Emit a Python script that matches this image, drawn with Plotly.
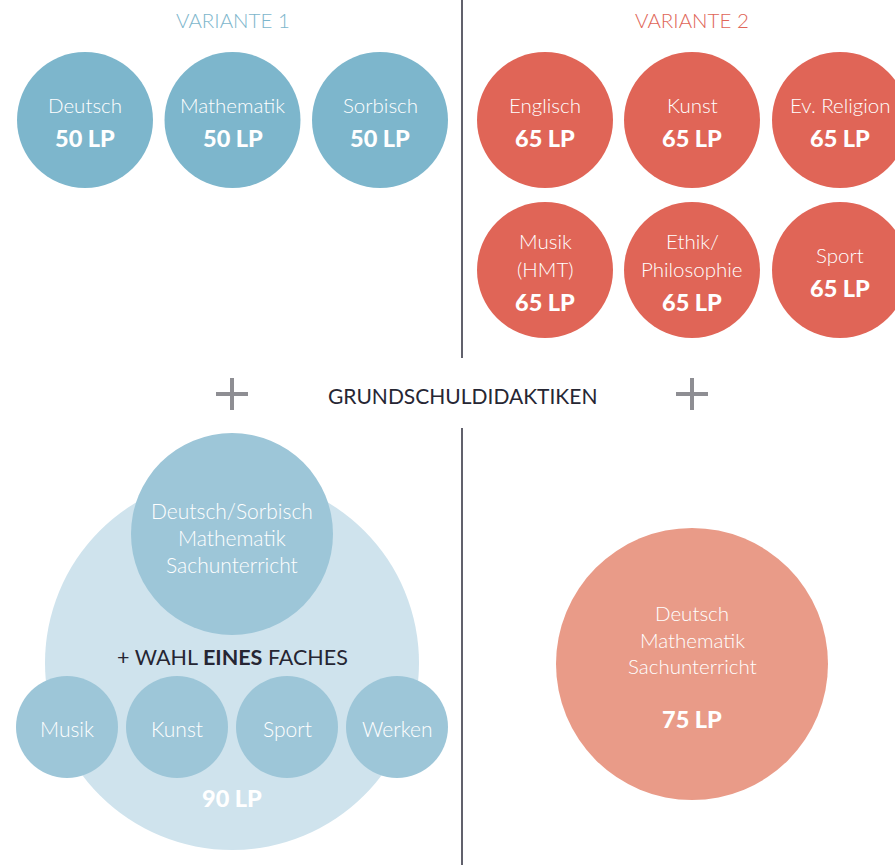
import plotly.graph_objects as go

# ---------------- data ----------------
variant_titles = ["VARIANTE 1", "VARIANTE 2"]
v1_subjects = [["Deutsch"], ["Mathematik"], ["Sorbisch"]]
v1_lp = [50, 50, 50]
v2_subjects = [["Englisch"], ["Kunst"], ["Ev. Religion"],
               ["Musik", "(HMT)"], ["Ethik/", "Philosophie"], ["Sport"]]
v2_lp = [65, 65, 65, 65, 65, 65]
middle_label = "GRUNDSCHULDIDAKTIKEN"
v1_core = ["Deutsch/Sorbisch", "Mathematik", "Sachunterricht"]
v1_choice_label = "+ WAHL <b>EINES</b> FACHES"
v1_choices = ["Musik", "Kunst", "Sport", "Werken"]
v1_didaktik_lp = 90
v2_didaktik = ["Deutsch", "Mathematik", "Sachunterricht"]
v2_didaktik_lp = 75

# ---------------- style ----------------
W, H = 895, 865
BLUE = "#7db6cc"
RED = "#e06557"
CORE_BLUE = "#9dc6d8"
LIGHT_BLUE = "#cfe3ed"
SALMON = "#e99b88"
DARK = "#262633"
GRAY = "#8e8e93"
LINE = "#2c2d3b"
FONT = "Lato"
LIGHT = 300

col_x = {1: [85, 232.5, 380], 2: [545, 692, 840]}
row_y = [120, 270]
R_SMALL = 68

fig = go.Figure()
ann = []


def add_text(x, y, text, size=20, color="white", weight=LIGHT):
    f = dict(family=FONT, size=size, color=color, weight=weight)
    ann.append(dict(x=x, y=y, xref="x", yref="y", text=text,
                    showarrow=False, xanchor="center", yanchor="middle", font=f))


def circle_block(xs, ys, diam, color):
    fig.add_trace(go.Scatter(x=xs, y=ys, mode="markers", hoverinfo="skip",
                             marker=dict(size=diam, color=color, line=dict(width=0), opacity=1),
                             showlegend=False, cliponaxis=False))


def label_lines(cx, cy, lines, lp):
    n = len(lines)
    total = (n - 1) * 28 + 33
    top = cy + 1 - total / 2
    for i, ln in enumerate(lines):
        add_text(cx, top + i * 28, ln, 20.5)
    add_text(cx, top + (n - 1) * 28 + 33, f"{lp} LP", 23.5, weight=900)


# Variant 1 subject circles
xs1 = [col_x[1][i % 3] for i in range(len(v1_subjects))]
ys1 = [row_y[i // 3] for i in range(len(v1_subjects))]
circle_block(xs1, ys1, 2 * R_SMALL, BLUE)
for x, y, s, lp in zip(xs1, ys1, v1_subjects, v1_lp):
    label_lines(x, y, s, lp)

# Variant 2 subject circles
xs2 = [col_x[2][i % 3] for i in range(len(v2_subjects))]
ys2 = [row_y[i // 3] for i in range(len(v2_subjects))]
circle_block(xs2, ys2, 2 * R_SMALL, RED)
for x, y, s, lp in zip(xs2, ys2, v2_subjects, v2_lp):
    label_lines(x, y, s, lp)

# titles
add_text(col_x[1][1], 20, variant_titles[0], 20.5, BLUE)
add_text(col_x[2][1], 20, variant_titles[1], 20.5, RED)

# middle label
add_text(462, 395, middle_label, 21, DARK, 400)

# Variant 1 didactics
cx1 = 232
circle_block([cx1], [663], 374, LIGHT_BLUE)
circle_block([cx1], [534], 202, CORE_BLUE)
for i, ln in enumerate(v1_core):
    add_text(cx1, 510 + i * 27, ln, 21)
add_text(cx1, 657, v1_choice_label, 21.5, DARK, 400)
ch_x = [67 + 110 * i for i in range(len(v1_choices))]
circle_block(ch_x, [727] * len(v1_choices), 102, CORE_BLUE)
for x, ln in zip(ch_x, v1_choices):
    add_text(x, 728, ln, 21)
add_text(cx1, 798, f"{v1_didaktik_lp} LP", 23.5, weight=900)

# Variant 2 didactics
cx2 = 692
circle_block([cx2], [664], 272, SALMON)
for i, ln in enumerate(v2_didaktik):
    add_text(cx2, 613 + i * 26.5, ln, 20.5)
add_text(cx2, 719, f"{v2_didaktik_lp} LP", 23.5, weight=900)

# separators and plus signs
shapes = [
    dict(type="line", x0=462, x1=462, y0=0, y1=358, xref="x", yref="y", line=dict(color=LINE, width=1.5)),
    dict(type="line", x0=462, x1=462, y0=428, y1=H, xref="x", yref="y", line=dict(color=LINE, width=1.5)),
]
for px in [232, 692]:
    shapes.append(dict(type="line", x0=px - 16, x1=px + 16, y0=394, y1=394, xref="x", yref="y",
                       line=dict(color=GRAY, width=4)))
    shapes.append(dict(type="line", x0=px, x1=px, y0=378, y1=410, xref="x", yref="y",
                       line=dict(color=GRAY, width=4)))

fig.update_layout(
    width=W, height=H, margin=dict(l=0, r=0, t=0, b=0),
    paper_bgcolor="white", plot_bgcolor="white",
    xaxis=dict(range=[0, W], visible=False, fixedrange=True),
    yaxis=dict(range=[H, 0], visible=False, fixedrange=True),
    annotations=ann, shapes=shapes, showlegend=False,
)

fig.write_html("out.html", config={"displayModeBar": False, "staticPlot": True},
               post_script="document.body.style.margin='0';document.body.style.overflow='hidden';")
